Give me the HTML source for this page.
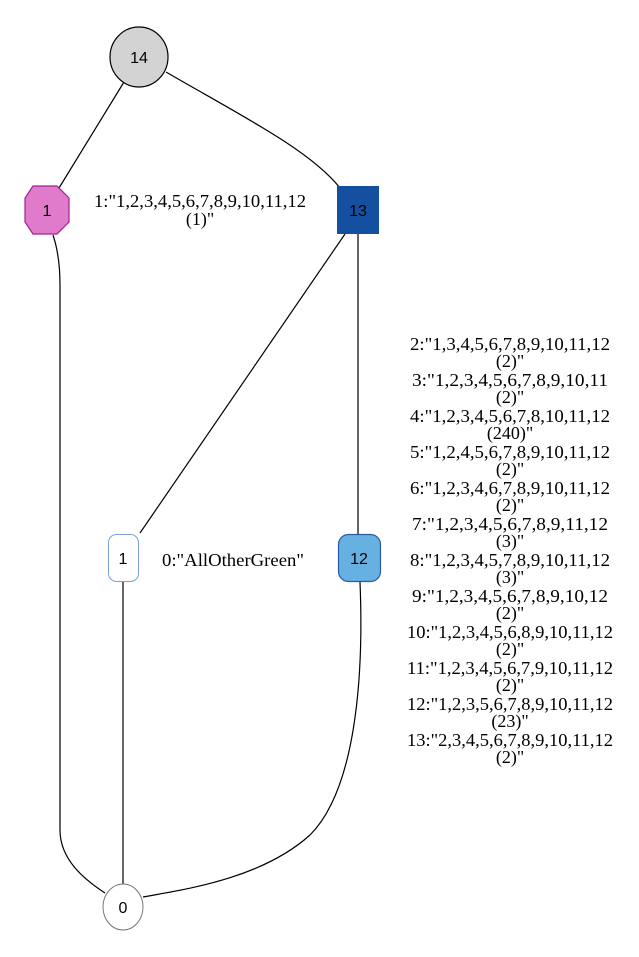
<!DOCTYPE html>
<html><head><meta charset="utf-8"><style>
html,body{margin:0;padding:0;background:#fff;}
svg{display:block}
.t{font-family:"Liberation Serif",serif;font-size:18px;fill:#000}
.n{font-family:"Liberation Sans",sans-serif;font-size:16px;fill:#000}
</style></head><body>
<svg width="639" height="957" viewBox="0 0 639 957" xmlns="http://www.w3.org/2000/svg">
<g fill="none" stroke="#000" stroke-width="1.2">
<path d="M124,82 L59,188"/>
<path d="M166,72 C240,115 310,150 340,188"/>
<path d="M53,235 C58,250 60,265 60,285 L60,830 C60,860 85,880 105,893"/>
<path d="M345,234 L140,533"/>
<path d="M123,582 L123,884"/>
<path d="M358,234 L358,535"/>
<path d="M360,582 C364,680 355,790 310,835 C260,880 180,890 143,897"/>
</g>
<ellipse cx="139" cy="57" rx="29" ry="30" fill="#d3d3d3" stroke="#000" stroke-width="1.2"/>
<text class="n" x="139" y="63" text-anchor="middle">14</text>
<polygon points="33,186 57,186 69,198 69,222 57,234 33,234 25,222 25,198" fill="#e07bcc" stroke="#a0208f" stroke-width="1.2"/>
<text class="n" x="47" y="216" text-anchor="middle">1</text>
<rect x="337" y="186" width="42" height="48" fill="#14509f"/>
<text class="n" x="358" y="216" text-anchor="middle">13</text>
<rect x="108.5" y="534.5" width="30" height="47" rx="8" fill="#fff" stroke="#7aa0d8" stroke-width="1"/>
<text class="n" x="123" y="564" text-anchor="middle">1</text>
<rect x="338.5" y="534.5" width="42" height="47" rx="10" fill="#66b1e1" stroke="#2a5aa0" stroke-width="1.2"/>
<text class="n" x="359" y="564" text-anchor="middle">12</text>
<ellipse cx="123" cy="907" rx="20" ry="23" fill="#fff" stroke="#777" stroke-width="1"/>
<text class="n" x="123" y="913" text-anchor="middle">0</text>
<text class="t" x="200" y="207" text-anchor="middle" textLength="212" lengthAdjust="spacingAndGlyphs">1:"1,2,3,4,5,6,7,8,9,10,11,12</text>
<text class="t" x="200" y="225" text-anchor="middle">(1)"</text>
<text class="t" x="233" y="566" text-anchor="middle" textLength="142" lengthAdjust="spacingAndGlyphs">0:"AllOtherGreen"</text>
<g text-anchor="middle">
<text class="t" x="510" y="350" textLength="200" lengthAdjust="spacingAndGlyphs">2:"1,3,4,5,6,7,8,9,10,11,12</text>
<text class="t" x="510" y="367">(2)"</text>
<text class="t" x="510" y="386" textLength="196" lengthAdjust="spacingAndGlyphs">3:"1,2,3,4,5,6,7,8,9,10,11</text>
<text class="t" x="510" y="403">(2)"</text>
<text class="t" x="510" y="422" textLength="200" lengthAdjust="spacingAndGlyphs">4:"1,2,3,4,5,6,7,8,10,11,12</text>
<text class="t" x="510" y="439">(240)"</text>
<text class="t" x="510" y="458" textLength="200" lengthAdjust="spacingAndGlyphs">5:"1,2,4,5,6,7,8,9,10,11,12</text>
<text class="t" x="510" y="475">(2)"</text>
<text class="t" x="510" y="494" textLength="200" lengthAdjust="spacingAndGlyphs">6:"1,2,3,4,6,7,8,9,10,11,12</text>
<text class="t" x="510" y="511">(2)"</text>
<text class="t" x="510" y="530" textLength="196" lengthAdjust="spacingAndGlyphs">7:"1,2,3,4,5,6,7,8,9,11,12</text>
<text class="t" x="510" y="547">(3)"</text>
<text class="t" x="510" y="566" textLength="200" lengthAdjust="spacingAndGlyphs">8:"1,2,3,4,5,7,8,9,10,11,12</text>
<text class="t" x="510" y="583">(3)"</text>
<text class="t" x="510" y="602" textLength="196" lengthAdjust="spacingAndGlyphs">9:"1,2,3,4,5,6,7,8,9,10,12</text>
<text class="t" x="510" y="619">(2)"</text>
<text class="t" x="510" y="638" textLength="206" lengthAdjust="spacingAndGlyphs">10:"1,2,3,4,5,6,8,9,10,11,12</text>
<text class="t" x="510" y="655">(2)"</text>
<text class="t" x="510" y="674" textLength="206" lengthAdjust="spacingAndGlyphs">11:"1,2,3,4,5,6,7,9,10,11,12</text>
<text class="t" x="510" y="691">(2)"</text>
<text class="t" x="510" y="710" textLength="206" lengthAdjust="spacingAndGlyphs">12:"1,2,3,5,6,7,8,9,10,11,12</text>
<text class="t" x="510" y="727">(23)"</text>
<text class="t" x="510" y="746" textLength="206" lengthAdjust="spacingAndGlyphs">13:"2,3,4,5,6,7,8,9,10,11,12</text>
<text class="t" x="510" y="763">(2)"</text>
</g>
</svg>
</body></html>
